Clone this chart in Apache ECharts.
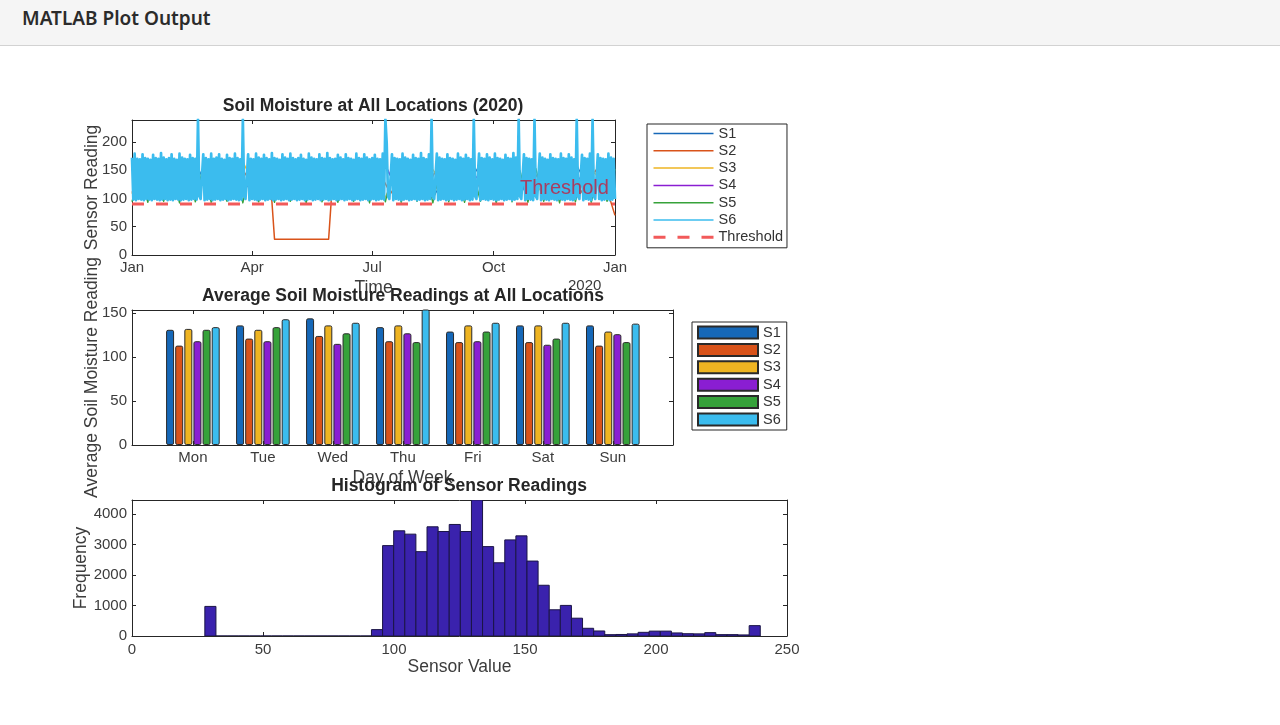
<!DOCTYPE html>
<html>
<head>
<meta charset="utf-8">
<title>MATLAB Plot Output</title>
<script src="https://cdn.jsdelivr.net/npm/echarts@6/dist/echarts.min.js"></script>
<style>
  html, body { margin: 0; padding: 0; background: #fff; }
  .header { position: absolute; left: 0; top: 0; width: 1280px; height: 46px; background: #f5f5f5;
            border-bottom: 1px solid #d2d2d2; box-sizing: border-box; }
  .header span { position: absolute; left: 22px; top: 5px; font: 600 19px "Noto Sans", sans-serif; color: #2b2b2b; }
  #chart { position: absolute; left: 0; top: 0; width: 1280px; height: 725px; }
</style>
</head>
<body>
<div class="header"><span>MATLAB Plot Output</span></div>
<div id="chart"></div>
<script>
// three stacked axes, same layout as the matlab subplot(3,1,k) figure

const monthDays = [0, 91, 182, 274, 366];
const monthNames = ['Jan', 'Apr', 'Jul', 'Oct', 'Jan'];
const sensorNames = ['S1', 'S2', 'S3', 'S4', 'S5', 'S6'];
const sensorColors = ['#1668b8', '#d9531a', '#eeb422', '#8a1ed2', '#36a23a', '#3bbcee'];
const thresholdLevel = 90;

// S6 daily readings (day 0..366), the cyan band that covers the other sensors
// spikes on days 50, 84, 192, 227, 259, 293, 305, 337, 349
const s6Readings = [
  172, 98, 179, 97, 170, 99, 169, 98, 178, 97, 171, 99, 170, 98,
  168, 97, 177, 99, 171, 98, 170, 97, 180, 98, 172, 99, 169, 97,
  171, 98, 178, 97, 170, 99, 168, 98, 179, 97, 172, 98, 170, 99,
  169, 97, 177, 98, 171, 99, 170, 98, 240, 104, 99, 98, 178, 97,
  171, 98, 169, 99, 179, 97, 170, 98, 172, 99, 178, 97, 170, 98,
  168, 99, 177, 97, 171, 98, 170, 99, 179, 98, 171, 97, 169, 98,
  240, 104, 99, 98, 178, 97, 170, 99, 169, 98, 179, 97, 172, 98,
  170, 99, 177, 97, 171, 98, 169, 99, 180, 97, 171, 98, 170, 99,
  168, 97, 178, 98, 172, 99, 170, 97, 179, 98, 171, 99, 169, 97,
  171, 98, 177, 99, 170, 97, 168, 98, 179, 99, 172, 97, 170, 98,
  169, 99, 178, 97, 171, 98, 170, 99, 180, 97, 171, 98, 169, 99,
  170, 97, 177, 98, 172, 99, 169, 97, 178, 98, 171, 99, 170, 97,
  168, 98, 179, 99, 171, 97, 170, 98, 178, 99, 172, 97, 169, 98,
  171, 99, 177, 97, 170, 98, 169, 99, 179, 98, 240, 198, 104, 99,
  98, 178, 97, 171, 99, 170, 98, 169, 97, 179, 98, 172, 99, 170,
  97, 168, 98, 177, 99, 171, 97, 170, 98, 180, 99, 171, 97, 169,
  98, 178, 99, 240, 104, 99, 98, 179, 97, 172, 98, 170, 99, 169,
  97, 178, 98, 171, 99, 170, 97, 168, 98, 179, 99, 172, 97, 170,
  98, 177, 99, 171, 97, 169, 98, 240, 104, 99, 98, 179, 97, 171,
  99, 170, 98, 178, 97, 172, 99, 169, 98, 179, 97, 171, 98, 170,
  99, 168, 97, 177, 98, 171, 99, 170, 97, 180, 98, 172, 99, 240,
  104, 99, 98, 178, 97, 171, 99, 170, 98, 169, 97, 240, 104, 99,
  98, 179, 97, 172, 99, 170, 98, 168, 97, 178, 99, 171, 98, 170,
  97, 169, 99, 179, 98, 171, 97, 170, 99, 178, 98, 172, 97, 169,
  99, 240, 104, 99, 98, 177, 97, 171, 99, 170, 98, 179, 97, 240,
  104, 99, 98, 178, 99, 171, 97, 170, 98, 169, 99, 179, 97, 172,
  98, 170, 99
];

// S1, S3, S4 every 12 days (hidden behind S6)
const sparseStep = 12;
const s1Readings = [160, 105, 152, 110, 165, 102, 148, 108, 158, 104, 162, 100, 150, 112, 166, 103,
  155, 107, 160, 101, 149, 109, 163, 104, 157, 102, 151, 111, 164, 106, 158];
const s3Readings = [108, 155, 103, 162, 110, 150, 105, 166, 101, 158, 112, 149, 104, 161, 107, 154,
  102, 165, 109, 151, 106, 160, 103, 157, 111, 148, 105, 163, 100, 156, 108];
const s4Readings = [150, 102, 161, 108, 147, 104, 158, 110, 152, 101, 164, 106, 149, 103, 157, 109,
  160, 100, 151, 107, 163, 105, 148, 111, 159, 102, 154, 108, 146, 104, 162];

// S2 has the sensor dropout in spring and the dip on the last day
const s2Days = [0, 12, 24, 36, 48, 60, 72, 84, 96, 104, 106, 108, 149, 151, 160, 172, 184, 196, 208,
  220, 232, 244, 256, 268, 280, 292, 304, 316, 328, 340, 352, 362, 366];
const s2Values = [110, 158, 104, 152, 112, 160, 106, 150, 108, 140, 95, 28, 28, 97, 155, 103, 160, 109, 148,
  104, 157, 111, 150, 102, 162, 107, 149, 105, 158, 110, 151, 100, 70];

// S5 every 6 days, its lows peek out under the cyan band
const s5Step = 6;
const s5Readings = [94, 148, 93, 155, 95, 145, 92, 152, 94, 158, 93, 147, 95, 150, 92, 156, 94, 146, 93, 153,
  95, 149, 92, 157, 94, 144, 93, 151, 95, 155, 92, 148, 94, 154, 93, 146, 95, 150, 92, 158,
  94, 147, 93, 152, 95, 145, 92, 156, 94, 149, 93, 153, 95, 148, 92, 155, 94, 150, 93, 146, 95, 152];

// weekday averages
const weekDays = ['Mon', 'Tue', 'Wed', 'Thu', 'Fri', 'Sat', 'Sun'];
const avgS1 = [131, 136, 144, 134, 129, 136, 136];
const avgS2 = [113, 121, 124, 118, 117, 117, 113];
const avgS3 = [132, 131, 136, 136, 136, 136, 129];
const avgS4 = [118, 118, 115, 127, 118, 114, 126];
const avgS5 = [131, 134, 127, 117, 129, 121, 117];
const avgS6 = [134, 143, 139, 168, 139, 139, 138];

// histogram, 50 bins
const histStart = 27.8;
const histBinWidth = 4.24;
const histCounts = [970, 0, 0, 0, 0, 0, 0, 0, 0, 0, 0, 0, 0, 0, 0,
  210, 2964, 3450, 3340, 2766, 3581, 3427, 3658, 3427, 4460, 2931, 2402, 3152, 3284, 2457,
  1664, 860, 1003, 584, 253, 165, 44, 50, 70, 120, 160, 160, 100, 75, 70, 110, 45, 45, 35, 340];

const FONT = 'Liberation Sans';
const axisColor = '#262626';
const labelColor = '#3c3c3c';
const tickFont = 15;

let chart = echarts.init(document.getElementById('chart'));

function boxAxis(gridIndex, position, min, max, ticks, opts) {
  // one side of the matlab axes box, ticks pointing in
  let showLabel = position == 'bottom' || position == 'left';
  let ax = {
    gridIndex: gridIndex,
    type: 'value',
    position: position,
    min: min,
    max: max,
    nameMoveOverlap: false,
    axisLine: { show: true, onZero: false, lineStyle: { color: axisColor, width: 1 } },
    axisTick: { show: true, inside: true, length: 4, customValues: ticks, lineStyle: { color: axisColor } },
    axisLabel: {
      show: showLabel, customValues: ticks, color: labelColor, fontSize: tickFont, fontFamily: FONT,
      margin: position == 'left' ? 5 : 6,
      formatter: v => String(v)
    },
    splitLine: { show: false }
  };
  return Object.assign(ax, opts || {});
}

function lineSeries(name, data, color, width) {
  return {
    type: 'line', name: name, xAxisIndex: 0, yAxisIndex: 0,
    data: data, symbol: 'none', showSymbol: false, silent: true,
    lineStyle: { color: color, width: width, join: 'round' },
    itemStyle: { color: color }
  };
}

const nameStyle = { color: labelColor, fontSize: 17.5, fontFamily: FONT };

let series = [
  lineSeries('S1', s1Readings.map((v, i) => [i * sparseStep, v]), sensorColors[0], 1.2),
  lineSeries('S2', s2Days.map((d, i) => [d, s2Values[i]]), sensorColors[1], 1.5),
  lineSeries('S3', s3Readings.map((v, i) => [i * sparseStep, v]), sensorColors[2], 1.2),
  lineSeries('S4', s4Readings.map((v, i) => [i * sparseStep, v]), sensorColors[3], 1.2),
  lineSeries('S5', s5Readings.map((v, i) => [i * s5Step, v]), sensorColors[4], 1.4),
  lineSeries('S6', s6Readings.map((v, day) => [day, v]), sensorColors[5], 2.7),
  {
    type: 'line', name: 'Threshold', xAxisIndex: 0, yAxisIndex: 0, symbol: 'none', silent: true,
    data: [[0, thresholdLevel], [366, thresholdLevel]],
    lineStyle: { color: '#f25a5a', width: 3, type: [12, 12] },
    itemStyle: { color: '#f25a5a' }, z: 3
  },
  {
    type: 'scatter', name: 'thresholdText', xAxisIndex: 0, yAxisIndex: 0, silent: true,
    data: [[294, 118]], symbolSize: 0, z: 4,
    label: { show: true, formatter: 'Threshold', position: 'right', distance: 0,
             color: '#c41d3c', fontSize: 20, fontFamily: FONT }
  }
];

const avgBySensor = [avgS1, avgS2, avgS3, avgS4, avgS5, avgS6];
avgBySensor.forEach(function (vals, k) {
  series.push({
    type: 'bar', name: sensorNames[k] + '#bar', xAxisIndex: 2, yAxisIndex: 2,
    data: vals.map((v, i) => [i + 1, v]),
    barWidth: 8, barGap: '14%',
    itemStyle: { color: sensorColors[k], borderColor: '#2a2a2a', borderWidth: 1, borderRadius: 1.5 },
    silent: true
  });
});

series.push({
  type: 'custom', name: 'hist', xAxisIndex: 4, yAxisIndex: 4, silent: true, clip: true,
  data: histCounts.map((c, i) => [histStart + i * histBinWidth, histStart + (i + 1) * histBinWidth, c]),
  encode: { x: [0, 1], y: 2 },
  renderItem: function (params, api) {
    let p0 = api.coord([api.value(0), api.value(2)]);
    let p1 = api.coord([api.value(1), 0]);
    return {
      type: 'rect',
      shape: { x: p0[0], y: p0[1], width: p1[0] - p0[0], height: p1[1] - p0[1] },
      style: { fill: '#3a22ad', stroke: '#1b1546', lineWidth: 1 }
    };
  }
});

const dayTicks = [1, 2, 3, 4, 5, 6, 7];

chart.setOption({
  animation: false,
  textStyle: { fontFamily: FONT },
  title: [
    { text: 'Soil Moisture at All Locations (2020)', left: 373, top: 97, textAlign: 'center', padding: 0 },
    { text: 'Average Soil Moisture Readings at All Locations', left: 403, top: 287, textAlign: 'center', padding: 0 },
    { text: 'Histogram of Sensor Readings', left: 459, top: 477, textAlign: 'center', padding: 0 }
  ].map(t => Object.assign(t, { textStyle: { fontSize: 17.5, fontWeight: 'bold', color: '#262626', fontFamily: FONT } })),
  grid: [
    { left: 132, top: 120, width: 483, height: 135 },
    { left: 132, top: 310, width: 541, height: 135 },
    { left: 132, top: 500, width: 655, height: 136 }
  ],
  xAxis: [
    boxAxis(0, 'bottom', 0, 366, monthDays, {
      name: 'Time', nameLocation: 'middle', nameGap: 24, nameTextStyle: nameStyle,
      axisLabel: { show: true, customValues: monthDays, color: labelColor, fontSize: tickFont, fontFamily: FONT, margin: 5,
        formatter: v => monthNames[monthDays.indexOf(v)] }
    }),
    boxAxis(0, 'top', 0, 366, monthDays),
    boxAxis(1, 'bottom', 0.13, 7.86, dayTicks, {
      name: 'Day of Week', nameLocation: 'middle', nameGap: 24, nameTextStyle: nameStyle,
      axisLabel: { show: true, customValues: dayTicks, color: labelColor, fontSize: tickFont, fontFamily: FONT, margin: 5,
        formatter: v => weekDays[v - 1] }
    }),
    boxAxis(1, 'top', 0.13, 7.86, dayTicks),
    boxAxis(2, 'bottom', 0, 250, [0, 50, 100, 150, 200, 250], {
      name: 'Sensor Value', nameLocation: 'middle', nameGap: 22, nameTextStyle: nameStyle
    }),
    boxAxis(2, 'top', 0, 250, [0, 50, 100, 150, 200, 250])
  ],
  yAxis: [
    boxAxis(0, 'left', 0, 238.5, [0, 50, 100, 150, 200], {
      name: 'Sensor Reading', nameLocation: 'middle', nameGap: 31, nameTextStyle: nameStyle
    }),
    boxAxis(0, 'right', 0, 238.5, [0, 50, 100, 150, 200]),
    boxAxis(1, 'left', 0, 153.5, [0, 50, 100, 150], {
      name: 'Average Soil Moisture Reading', nameLocation: 'middle', nameGap: 31, nameTextStyle: nameStyle
    }),
    boxAxis(1, 'right', 0, 153.5, [0, 50, 100, 150]),
    boxAxis(2, 'left', 0, 4460, [0, 1000, 2000, 3000, 4000], {
      name: 'Frequency', nameLocation: 'middle', nameGap: 42, nameTextStyle: nameStyle
    }),
    boxAxis(2, 'right', 0, 4460, [0, 1000, 2000, 3000, 4000])
  ],
  legend: [
    {
      data: sensorNames.map(n => ({ name: n })).concat([{ name: 'Threshold', lineStyle: { width: 3 } }]),
      orient: 'vertical', left: 647, top: 124, padding: [2, 4, 3, 5],
      itemWidth: 60, itemHeight: 10, itemGap: 2.3, selectedMode: false,
      lineStyle: { width: 1.5 },
      itemStyle: { opacity: 0 },
      borderColor: axisColor, borderWidth: 1, backgroundColor: '#fff',
      textStyle: { fontSize: 14.5, lineHeight: 13, color: '#333', fontFamily: FONT }
    },
    {
      data: sensorNames.map(n => n + '#bar'),
      formatter: n => n.replace('#bar', ''),
      icon: 'rect',
      orient: 'vertical', left: 692, top: 322, padding: [3, 6, 3, 5],
      itemWidth: 60, itemHeight: 12, itemGap: 2.4, selectedMode: false,
      borderColor: axisColor, borderWidth: 1, backgroundColor: '#fff',
      textStyle: { fontSize: 14.5, lineHeight: 13, color: '#333', fontFamily: FONT }
    }
  ],
  graphic: [
    { type: 'text', left: 568, top: 278, style: { text: '2020', fontSize: tickFont, fontFamily: FONT, fill: labelColor } }
  ],
  series: series
});
</script>
</body>
</html>
